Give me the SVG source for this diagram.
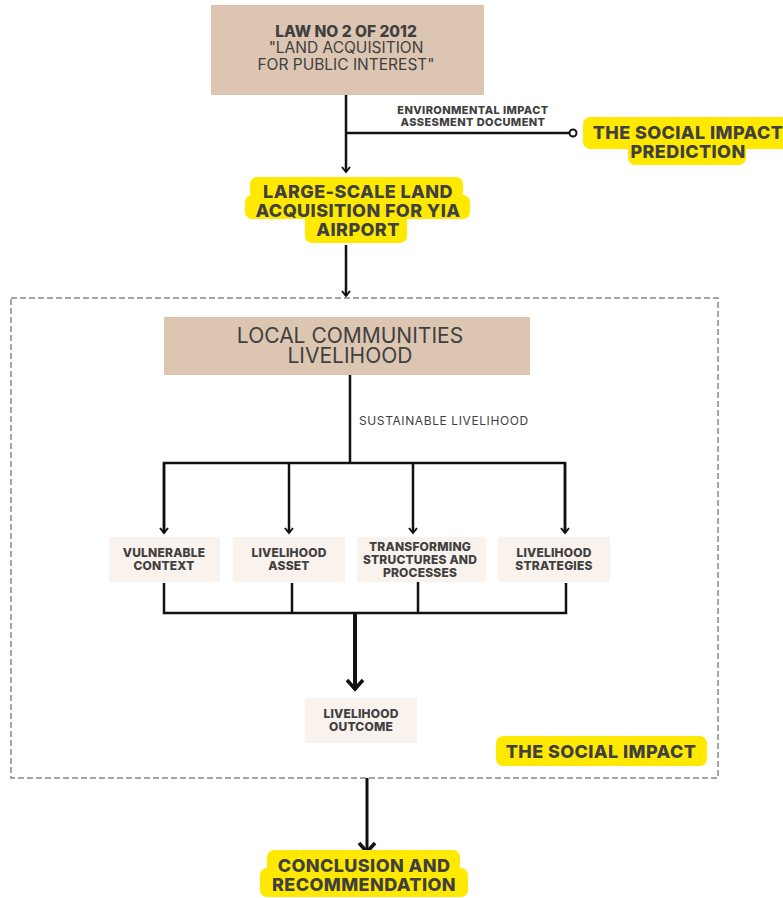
<svg xmlns="http://www.w3.org/2000/svg" width="783" height="898" viewBox="0 0 783 898">
<style>
.t{font-family:Inter,"Liberation Sans",sans-serif;fill:#404040;text-anchor:middle}
.b{font-weight:800}
.tan{fill:#dcc6b2}
.lite{fill:#f9f2ed}
.yel{fill:#ffe900}
.ln{stroke:#111;stroke-width:2.5;fill:none}
.big{font-size:18px;letter-spacing:0.4px}
.sm{font-size:12px;letter-spacing:0.2px}
</style>
<defs>
<marker id="ah" viewBox="0 0 10 10" refX="8" refY="5" markerWidth="10" markerHeight="10" markerUnits="userSpaceOnUse" orient="auto">
<path d="M3,1 L8,5 L3,9" fill="none" stroke="#111" stroke-width="2"/>
</marker>
<marker id="ahb" viewBox="0 0 20 20" refX="17" refY="10" markerWidth="20" markerHeight="20" markerUnits="userSpaceOnUse" orient="auto">
<path d="M7,2 L16,10 L7,18" fill="none" stroke="#111" stroke-width="3.5"/>
</marker>
</defs>
<rect width="783" height="898" fill="#fff"/>
<rect x="11" y="298" width="707" height="480" fill="none" stroke="#888" stroke-width="1.5" stroke-dasharray="6,3"/>
<g id="connectors">
<line class="ln" x1="346" y1="95" x2="346" y2="172" marker-end="url(#ah)"/>
<line class="ln" x1="346" y1="133" x2="569" y2="133"/>
<circle cx="573" cy="133" r="3.5" fill="#fff" stroke="#111" stroke-width="2"/>
<line class="ln" x1="346" y1="245" x2="346" y2="296" marker-end="url(#ah)"/>
<line class="ln" x1="350" y1="375" x2="350" y2="463"/>
<polyline class="ln" points="164,533 164,463 565,463 565,533"/>
<line class="ln" x1="289" y1="463" x2="289" y2="533" marker-end="url(#ah)"/>
<line class="ln" x1="413" y1="463" x2="413" y2="533" marker-end="url(#ah)"/>
<line class="ln" x1="164" y1="463" x2="164" y2="533" marker-end="url(#ah)"/>
<line class="ln" x1="565" y1="463" x2="565" y2="533" marker-end="url(#ah)"/>
<polyline class="ln" points="164,583 164,613 566,613 566,583"/>
<line class="ln" x1="292" y1="583" x2="292" y2="613"/>
<line class="ln" x1="418" y1="581" x2="418" y2="613"/>
<line x1="355" y1="613" x2="355" y2="690" stroke="#111" stroke-width="4" marker-end="url(#ahb)"/>
<line x1="367" y1="778" x2="367" y2="853" stroke="#111" stroke-width="3" marker-end="url(#ahb)"/>
<text class="t b" x="473" y="114" font-size="11" letter-spacing="0.4">ENVIRONMENTAL IMPACT</text>
<text class="t b" x="473" y="126" font-size="11" letter-spacing="0.4">ASSESMENT DOCUMENT</text>
<text class="t" x="359" y="425" font-size="12" letter-spacing="0.6" style="text-anchor:start" fill="#555">SUSTAINABLE LIVELIHOOD</text>
</g>
<g id="law">
<rect class="tan" x="211" y="5" width="273" height="90"/>
<text class="t b" x="346" y="37" font-size="15.5">LAW NO 2 OF 2012</text>
<text class="t" x="346" y="53" font-size="15.5">"LAND ACQUISITION</text>
<text class="t" x="346" y="70" font-size="15.5">FOR PUBLIC INTEREST"</text>
</g>
<g id="prediction">
<rect class="yel" x="583" y="117" width="210" height="32" rx="7"/>
<rect class="yel" x="628" y="135" width="118" height="30" rx="7"/>
<text class="t b big" x="688" y="139">THE SOCIAL IMPACT</text>
<text class="t b big" x="688" y="158">PREDICTION</text>
</g>
<g id="large-scale">
<rect class="yel" x="250" y="177" width="213" height="22" rx="7"/>
<rect class="yel" x="245" y="195" width="225" height="24" rx="7"/>
<rect class="yel" x="305" y="212" width="102" height="31" rx="7"/>
<text class="t b big" x="358" y="198">LARGE-SCALE LAND</text>
<text class="t b big" x="358" y="217">ACQUISITION FOR YIA</text>
<text class="t b big" x="358" y="236">AIRPORT</text>
</g>
<g id="local">
<rect class="tan" x="164" y="317" width="366" height="58"/>
<text class="t" x="350" y="343" font-size="21">LOCAL COMMUNITIES</text>
<text class="t" x="350" y="363" font-size="21">LIVELIHOOD</text>
</g>
<g id="vulnerable">
<rect class="lite" x="109" y="537" width="111" height="45"/>
<text class="t b sm" x="164" y="557">VULNERABLE</text>
<text class="t b sm" x="164" y="570">CONTEXT</text>
</g>
<g id="asset">
<rect class="lite" x="233" y="537" width="112" height="45"/>
<text class="t b sm" x="289" y="557">LIVELIHOOD</text>
<text class="t b sm" x="289" y="570">ASSET</text>
</g>
<g id="transforming">
<rect class="lite" x="357" y="537" width="129" height="45"/>
<text class="t b sm" x="420" y="551">TRANSFORMING</text>
<text class="t b sm" x="420" y="564">STRUCTURES AND</text>
<text class="t b sm" x="420" y="577">PROCESSES</text>
</g>
<g id="strategies">
<rect class="lite" x="498" y="537" width="112" height="45"/>
<text class="t b sm" x="554" y="557">LIVELIHOOD</text>
<text class="t b sm" x="554" y="570">STRATEGIES</text>
</g>
<g id="outcome">
<rect class="lite" x="305" y="698" width="112" height="45"/>
<text class="t b sm" x="361" y="718">LIVELIHOOD</text>
<text class="t b sm" x="361" y="731">OUTCOME</text>
</g>
<g id="social-impact">
<rect class="yel" x="496" y="736" width="211" height="30" rx="7"/>
<text class="t b big" x="601" y="758">THE SOCIAL IMPACT</text>
</g>
<g id="conclusion">
<rect class="yel" x="267" y="850" width="193" height="26" rx="7"/>
<rect class="yel" x="260" y="868" width="208" height="29" rx="7"/>
<text class="t b big" x="364" y="872">CONCLUSION AND</text>
<text class="t b big" x="364" y="891">RECOMMENDATION</text>
</g>
</svg>
